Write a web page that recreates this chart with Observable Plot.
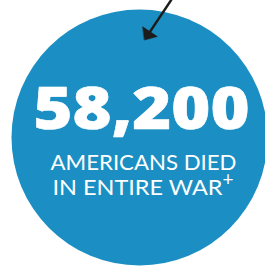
<!DOCTYPE html>
<html><head><meta charset="utf-8">
<script src="https://cdn.jsdelivr.net/npm/d3@7"></script>
<script src="https://cdn.jsdelivr.net/npm/@observablehq/plot@0.6"></script>
<style>html,body{margin:0;padding:0;background:#fff;overflow:hidden}</style>
</head><body><div id="chart"></div>
<script>
// Content
const headline = ["58,200"];
const captionLines = ["AMERICANS DIED", "IN ENTIRE WAR"];
const footnoteMarks = ["+"];

// Layout (pixel-like coordinate system)
const W = 265, H = 266;
const circleColor = "#1b8fc3";
const arrowColor = "#1c1c1c";
const circle = {cx: 139, cy: 137, r: 128};
const arrowTail = [171, -1];
const arrowTip = [144, 39.5];
const headLen = 10, headHalf = 8.8;

const dx = arrowTip[0] - arrowTail[0], dy = arrowTip[1] - arrowTail[1];
const L = Math.hypot(dx, dy), ux = dx / L, uy = dy / L;
const mid = [arrowTip[0] - ux * headLen, arrowTip[1] - uy * headLen];
const head = [
  [arrowTip[0], arrowTip[1]],
  [mid[0] + uy * headHalf, mid[1] - ux * headHalf],
  [mid[0] - uy * headHalf, mid[1] + ux * headHalf]
];

const headFont = "'Open Sans', sans-serif";
const font = "Lato, 'Open Sans', sans-serif";

const plot = Plot.plot({
  width: W, height: H, margin: 0,
  x: {domain: [0, W], range: [0, W], axis: null},
  y: {domain: [0, H], range: [0, H], axis: null},
  style: {background: "white", fontFamily: font, overflow: "hidden"},
  marks: [
    Plot.dot([circle], {x: "cx", y: "cy", r: circle.r, fill: circleColor, stroke: null}),
    Plot.link([0], {x1: arrowTail[0], y1: arrowTail[1], x2: mid[0] + ux, y2: mid[1] + uy, stroke: arrowColor, strokeWidth: 2.4}),
    Plot.line(head, {x: d => d[0], y: d => d[1], fill: arrowColor, stroke: arrowColor, strokeWidth: 0.5, curve: "linear-closed"}),
    Plot.text(headline, {x: 33, y: 128, text: d => d, textAnchor: "start", lineAnchor: "bottom",
      fontSize: 58, fontWeight: 800, fill: "white", fontFamily: headFont, stroke: "white", strokeWidth: 0.6}),
    Plot.text(captionLines, {x: [50, 52], y: [169, 194], text: d => d, textAnchor: "start", lineAnchor: "bottom",
      fontSize: 20.5, fontWeight: 400, fill: "white", fontFamily: font}),
    Plot.text(footnoteMarks, {x: 222, y: 185, text: d => d, textAnchor: "start", lineAnchor: "bottom",
      fontSize: 19, fontWeight: 400, fill: "white", fontFamily: font})
  ]
});

document.getElementById("chart").appendChild(plot);

// Fit text widths to the reference's typesetting
const targetLengths = [216, 186, 170];
const texts = d3.select(plot).selectAll("g[aria-label='text'] text").nodes();
texts.forEach((t, i) => {
  if (i < targetLengths.length) {
    t.setAttribute("textLength", targetLengths[i]);
    t.setAttribute("lengthAdjust", "spacingAndGlyphs");
  }
});
</script>
</body></html>
